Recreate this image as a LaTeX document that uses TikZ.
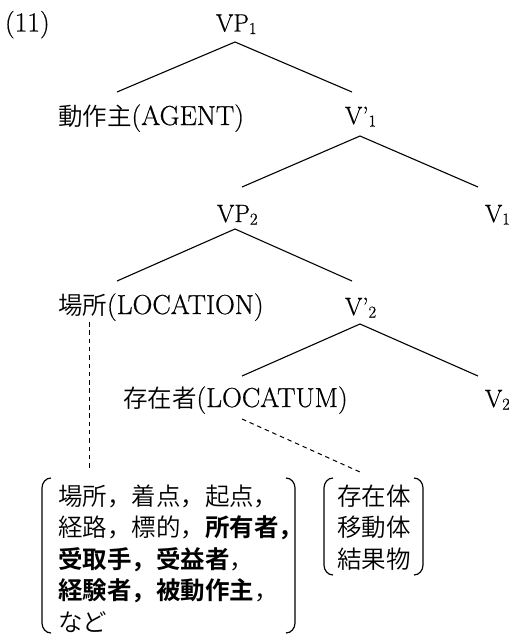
\documentclass[tikz,border=0pt]{standalone}
\usepackage{fontspec}
\setmainfont{Latin Modern Roman}[FakeBold=0.6]
\IfFontExistsTF{Noto Sans CJK JP DemiLight}
  {\newfontfamily\jp{Noto Sans CJK JP DemiLight}[BoldFont={Noto Sans CJK JP Bold}]}
  {\newfontfamily\jp{Noto Sans CJK JP}[BoldFont={Noto Sans CJK JP Bold}]}
\newcommand\sbs[1]{\raisebox{-2.5pt}{\fontsize{16.5}{16.5}\selectfont #1}}
\newcommand\lat{\fontsize{27.5}{31}\selectfont}
\newcommand\drawparens[1]{%
  \draw[brk] ([xshift=9pt]#1.north west) to[out=180,in=90] ([yshift=-10pt]#1.north west)
     -- ([yshift=10pt]#1.south west) to[out=270,in=180] ([xshift=9pt]#1.south west);
  \draw[brk] ([xshift=-9pt]#1.north east) to[out=0,in=90] ([yshift=-10pt]#1.north east)
     -- ([yshift=10pt]#1.south east) to[out=270,in=0] ([xshift=-9pt]#1.south east);}
\begin{document}
\begin{tikzpicture}[x=1pt,y=-1pt,
  every node/.style={inner sep=0pt, outer sep=0pt, font=\fontsize{25}{31}\selectfont, anchor=base west},
  jpt/.style={font=\fontsize{24.5}{31}\selectfont\jp},
  tree/.style={line width=1.1pt},
  dashline/.style={line width=1pt, dash pattern=on 4.5pt off 3.8pt},
  brk/.style={line width=1.2pt},
  setbox/.style={draw=none, anchor=center}]
\useasboundingbox (0,0) rectangle (509,635);
% labels
\node (ex) at (5,31.5) {\lat(11)};
\node (vp1) at (216,31.5) {VP\sbs{1}};
\node (agent) at (58,125) {{\fontsize{24.5}{31}\jp 動作主}\lat(AGENT)};
\node (v1p) at (345,124) {V’\sbs{1}};
\node (vp2) at (217,222) {VP\sbs{2}};
\node (v1) at (485,222) {V\sbs{1}};
\node (loc) at (58,314) {{\fontsize{24.5}{31}\jp 場所}\lat(LOCATION)};
\node (v2p) at (345,315) {V’\sbs{2}};
\node (locatum) at (123,407) {{\fontsize{24.5}{31}\jp 存在者}\lat(LOCATUM)};
\node (v2) at (485,407) {V\sbs{2}};
% tree branches
\draw[tree] ([xshift=59pt,yshift=33pt]agent.base west) -- ([xshift=19pt,yshift=-10.5pt]vp1.base west)
            -- ([xshift=7pt,yshift=32pt]v1p.base west);
\draw[tree] ([xshift=25pt,yshift=35pt]vp2.base west) -- ([xshift=15pt,yshift=-12pt]v1p.base west)
            -- ([xshift=-7pt,yshift=35pt]v1.base west);
\draw[tree] ([xshift=59pt,yshift=33pt]loc.base west) -- ([xshift=18pt,yshift=-7pt]vp2.base west)
            -- ([xshift=7pt,yshift=34pt]v2p.base west);
\draw[tree] ([xshift=119pt,yshift=31pt]locatum.base west) -- ([xshift=15pt,yshift=-9pt]v2p.base west)
            -- ([xshift=-7pt,yshift=31pt]v2.base west);
% sets
\node[setbox, minimum width=253pt, minimum height=155pt] (set1) at (168.5,555.5) {};
\node[setbox, minimum width=99pt, minimum height=97pt] (set2) at (373.5,526.5) {};
\drawparens{set1}
\drawparens{set2}
\node[jpt] (a1) at (58,505) {場所，着点，起点，};
\node[jpt] (a2) at (58,536.5) {経路，標的，\bfseries 所有者，};
\node[jpt] (a3) at (58,568) {{\bfseries 受取手，受益者}，};
\node[jpt] (a4) at (58,599.5) {{\bfseries 経験者，被動作主}，};
\node[jpt] (a5) at (58,631) {など};
\node[jpt] (b1) at (337,505) {存在体};
\node[jpt] (b2) at (337,536.5) {移動体};
\node[jpt] (b3) at (337,568) {結果物};
% dashed links
\draw[dashline] ([xshift=31pt,yshift=-8pt]loc.base west) -- ([xshift=47pt,yshift=8pt]set1.north west);
\draw[dashline] ([xshift=119pt,yshift=-12pt]locatum.base west) -- ([xshift=36pt,yshift=6pt]set2.north west);
\end{tikzpicture}
\end{document}
